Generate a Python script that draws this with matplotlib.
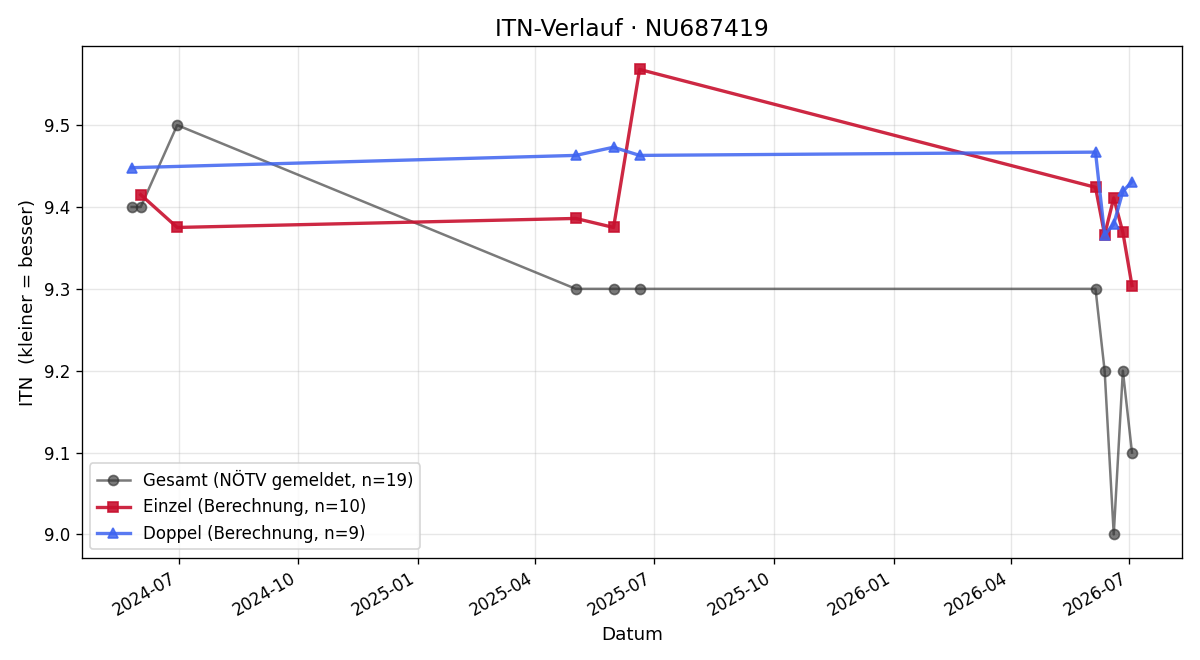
import matplotlib
matplotlib.use("Agg")
import matplotlib.pyplot as plt
import matplotlib.dates as mdates
import pandas as pd

gesamt_dates = ["2024-05-26", "2024-06-02", "2024-06-30", "2025-05-02", "2025-05-31",
                "2025-06-20", "2026-06-05", "2026-06-12", "2026-06-19", "2026-06-26",
                "2026-07-03"]
gesamt_itn = [9.4, 9.4, 9.5, 9.3, 9.3, 9.3, 9.3, 9.2, 9.0, 9.2, 9.1]

einzel_dates = ["2024-06-02", "2024-06-30", "2025-05-02", "2025-05-31", "2025-06-20",
                "2026-06-05", "2026-06-12", "2026-06-19", "2026-06-26", "2026-07-03"]
einzel_itn = [9.415, 9.375, 9.386, 9.375, 9.568, 9.424, 9.366, 9.411, 9.369, 9.304]

doppel_dates = ["2024-05-26", "2025-05-02", "2025-05-31", "2025-06-20", "2026-06-05",
                "2026-06-12", "2026-06-19", "2026-06-26", "2026-07-03"]
doppel_itn = [9.448, 9.463, 9.473, 9.463, 9.467, 9.366, 9.379, 9.419, 9.431]

fig, ax = plt.subplots(figsize=(10, 5.5), dpi=120)

ax.plot(pd.to_datetime(gesamt_dates), gesamt_itn, marker="o", color="#333333",
        alpha=0.65, linewidth=1.5, markersize=6, label="Gesamt (NÖTV gemeldet, n=19)")
ax.plot(pd.to_datetime(einzel_dates), einzel_itn, marker="s", color="#c8102e",
        alpha=0.9, linewidth=2, markersize=6.5, label="Einzel (Berechnung, n=10)")
ax.plot(pd.to_datetime(doppel_dates), doppel_itn, marker="^", color="#3d63f0",
        alpha=0.85, linewidth=2, markersize=6.5, label="Doppel (Berechnung, n=9)")

ax.xaxis.set_major_locator(mdates.MonthLocator(bymonth=[1, 4, 7, 10]))
ax.xaxis.set_major_formatter(mdates.DateFormatter("%Y-%m"))
fig.autofmt_xdate()

ax.set_title("ITN-Verlauf · NU687419", fontsize=14)
ax.set_xlabel("Datum", fontsize=11)
ax.set_ylabel("ITN  (kleiner = besser)", fontsize=11)
ax.grid(True, alpha=0.3)
ax.legend(loc="lower left", fontsize=10)

plt.subplots_adjust(left=0.068, right=0.985, top=0.93, bottom=0.155)
plt.savefig("out.png")
plt.close()
